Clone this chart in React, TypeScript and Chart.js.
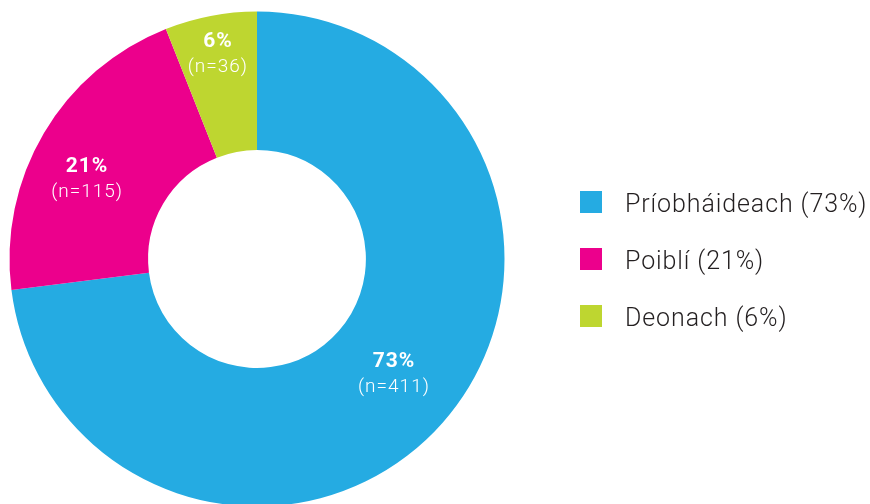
import React, { useEffect, useRef } from "react";
import { Chart, registerables } from "chart.js";

Chart.register(...registerables);

// ---- data ----
const categories = ["Príobháideach", "Poiblí", "Deonach"];
const counts = [411, 115, 36];
const percents = [73, 21, 6];
const colors = ["#25ABE2", "#EC008C", "#BED630"];

// ---- label placement (style, not data) ----
const labelRadiusFrac = [0.495, 0.575, 0.733];
const labelAngleShiftDeg = [-1.9, -4.9, 0.1];

const FONT = "Roboto, 'Liberation Sans', sans-serif";

const sliceLabels = {
  id: "sliceLabels",
  afterDatasetsDraw(chart: any) {
    const ctx = chart.ctx;
    const meta = chart.getDatasetMeta(0);
    ctx.save();
    ctx.fillStyle = "#ffffff";
    ctx.textAlign = "center";
    ctx.textBaseline = "alphabetic";
    meta.data.forEach((arc: any, i: number) => {
      const p = arc.getProps(["x", "y", "startAngle", "endAngle", "innerRadius", "outerRadius"], true);
      const mid = (p.startAngle + p.endAngle) / 2 + (labelAngleShiftDeg[i] * Math.PI) / 180;
      const r = p.innerRadius + (p.outerRadius - p.innerRadius) * labelRadiusFrac[i];
      const cx = p.x + Math.cos(mid) * r;
      const cy = p.y + Math.sin(mid) * r;
      (ctx as any).letterSpacing = "1px";
      ctx.font = `bold 21px ${FONT}`;
      ctx.fillText(`${percents[i]}%`, cx, cy - 5);
      ctx.font = `300 19px ${FONT}`;
      ctx.fillText(`(n=${counts[i]})`, cx, cy + 20);
    });
    ctx.restore();
  },
};

const sideLegend = {
  id: "sideLegend",
  afterDraw(chart: any) {
    const ctx = chart.ctx;
    const ds = chart.data.datasets[0];
    ctx.save();
    ctx.textAlign = "left";
    ctx.textBaseline = "alphabetic";
    chart.data.labels.forEach((lab: string, i: number) => {
      const top = 191 + i * 57;
      ctx.fillStyle = ds.backgroundColor[i];
      ctx.fillRect(580, top, 22, 22);
      ctx.fillStyle = "#231F20";
      (ctx as any).letterSpacing = "0.9px";
      ctx.font = `300 25px ${FONT}`;
      ctx.fillText(`${lab} (${percents[i]}%)`, 625, top + 21);
    });
    ctx.restore();
  },
};

export default function App() {
  const ref = useRef<HTMLCanvasElement | null>(null);
  useEffect(() => {
    if (!ref.current) return;
    const chart = new Chart(ref.current, {
      type: "doughnut",
      data: {
        labels: categories,
        datasets: [
          {
            data: percents,
            backgroundColor: colors,
            borderWidth: 0,
          },
        ],
      },
      options: {
        responsive: false,
        animation: false,
        cutout: "44%",
        layout: { padding: { left: 9.5, top: 11.5, right: 365.5, bottom: 13.5 } },
        plugins: {
          legend: { display: false },
          tooltip: { enabled: false },
        },
      },
      plugins: [sliceLabels, sideLegend],
    });
    return () => chart.destroy();
  }, []);
  return (
    <div style={{ position: "fixed", left: 0, top: 0, width: 870, height: 520, background: "#fff" }}>
      <canvas ref={ref} width={870} height={520} style={{ display: "block" }} />
    </div>
  );
}
